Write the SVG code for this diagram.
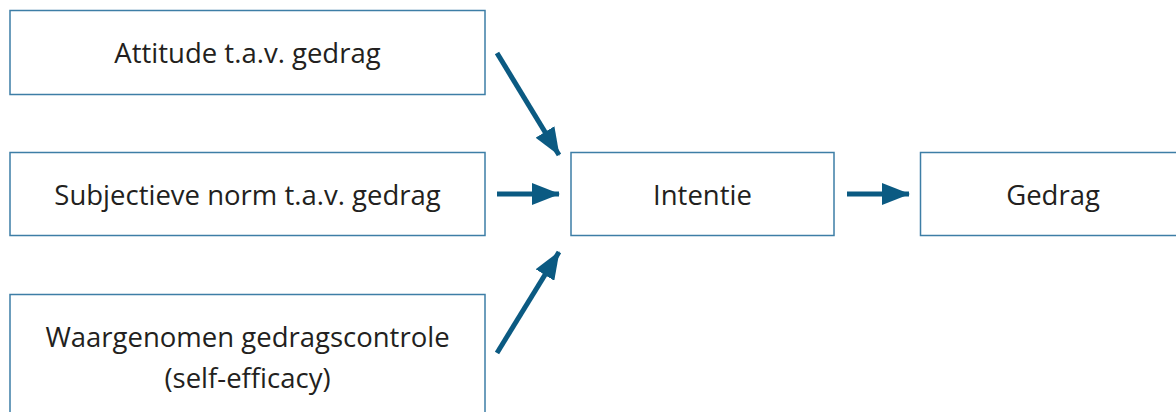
<svg xmlns="http://www.w3.org/2000/svg" width="1176" height="412" viewBox="0 0 1176 412">
<style>
.box{fill:#fff;stroke:#3d7ea6;stroke-width:1.5}
.t{font-family:"Open Sans","Noto Sans",sans-serif;font-size:27.5px;fill:#231f20;text-anchor:middle}
.c{stroke:#0b5a82;stroke-width:5;fill:none}
</style>
<defs>
<marker id="ah" markerUnits="userSpaceOnUse" markerWidth="28" markerHeight="22" refX="27" refY="11" orient="auto" viewBox="0 0 28 22">
<path d="M0,0 L28,11 L0,22 Z" fill="#0b5a82"/>
</marker>
</defs>
<rect width="1176" height="412" fill="#fff"/>
<g id="n1"><rect class="box" x="10" y="10.5" width="475" height="84"/><text class="t" x="247.5" y="63">Attitude t.a.v. gedrag</text></g>
<g id="n2"><rect class="box" x="10" y="152.5" width="475" height="83"/><text class="t" x="247.5" y="205">Subjectieve norm t.a.v. gedrag</text></g>
<g id="n3"><rect class="box" x="10" y="294.5" width="475" height="130"/><text class="t" x="247.5" y="347">Waargenomen gedragscontrole</text><text class="t" x="247.5" y="388">(self-efficacy)</text></g>
<g id="n4"><rect class="box" x="571" y="152.5" width="263" height="83"/><text class="t" x="702.5" y="205">Intentie</text></g>
<g id="n5"><rect class="box" x="920.5" y="152.5" width="270" height="83"/><text class="t" x="1053" y="205">Gedrag</text></g>
<g id="connectors">
<line class="c" x1="497" y1="53" x2="559" y2="155" marker-end="url(#ah)"/>
<line class="c" x1="497" y1="194" x2="559" y2="194" marker-end="url(#ah)"/>
<line class="c" x1="497" y1="353" x2="559" y2="252" marker-end="url(#ah)"/>
<line class="c" x1="847" y1="194" x2="909" y2="194" marker-end="url(#ah)"/>
</g>
</svg>
